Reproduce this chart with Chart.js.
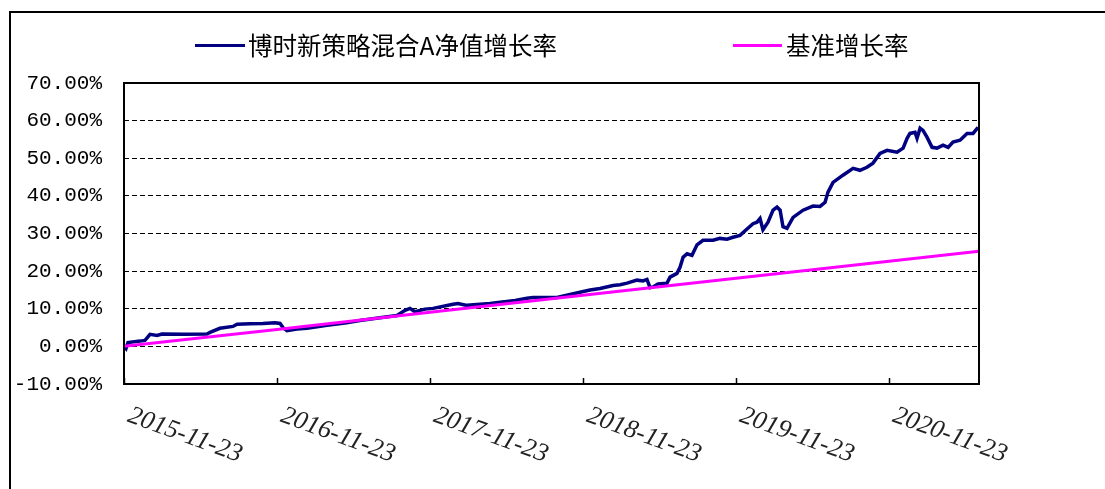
<!DOCTYPE html>
<html>
<head>
<meta charset="utf-8">
<script src="https://cdn.jsdelivr.net/npm/chart.js@4"></script>
<style>
  html, body { margin: 0; padding: 0; background: #fff; }
  #wrap { position: relative; width: 1105px; height: 489px; overflow: hidden; background: #fff; }
  #frame { position: absolute; left: 9px; top: 11px; right: -10px; bottom: -10px;
           border-top: 2px solid #000; border-left: 2px solid #000; }
  canvas { position: absolute; left: 0; top: 0; }
  .lg-line { position: absolute; height: 3px; }
  .lg-text { position: absolute; font-family: "Noto Sans CJK SC", sans-serif; font-size: 24.5px;
             line-height: 28px; color: #000; white-space: nowrap; }
</style>
</head>
<body>
<div id="wrap">
  <div id="frame"></div>
  <canvas id="c" width="1105" height="489"></canvas>
  <div class="lg-line" id="lg1" style="left:195px; top:44px; width:50px; background:#000080;"></div>
  <div class="lg-text" id="lt1" style="left:248px; top:31px;"></div>
  <div class="lg-line" id="lg2" style="left:733px; top:44px; width:49px; background:#ff00ff;"></div>
  <div class="lg-text" id="lt2" style="left:786px; top:31px;"></div>
</div>
<script>
// Series names
const seriesNames = ['博时新策略混合A净值增长率', '基准增长率'];
// X tick labels (one per year since start)
const xTickLabels = ['2015-11-23', '2016-11-23', '2017-11-23', '2018-11-23', '2019-11-23', '2020-11-23'];
// Fund: time in years since 2015-11-23, value in %
const fundYears = [0.000, 0.013, 0.026, 0.105, 0.137, 0.170, 0.216, 0.248, 0.399, 0.542, 0.562, 0.627, 0.712, 0.739, 0.824, 0.908, 0.987,
  1.020, 1.039, 1.065, 1.131, 1.196, 1.327, 1.444, 1.542, 1.673, 1.784, 1.837, 1.869, 1.902, 1.967,
  2.020, 2.150, 2.183, 2.242, 2.392, 2.458, 2.556, 2.634, 2.673, 2.830, 2.915, 2.980,
  3.046, 3.111, 3.196, 3.242, 3.288, 3.353, 3.392, 3.418, 3.438, 3.458, 3.490, 3.549, 3.569, 3.614, 3.634, 3.654, 3.680, 3.712, 3.745, 3.784, 3.850, 3.895, 3.941, 3.980,
  4.026, 4.072, 4.111, 4.137, 4.157, 4.176, 4.209, 4.242, 4.268, 4.288, 4.307, 4.333, 4.373, 4.438, 4.503, 4.549, 4.582, 4.601, 4.634, 4.699, 4.765, 4.810, 4.856, 4.895, 4.941, 4.987,
  5.052, 5.092, 5.118, 5.137, 5.170, 5.183, 5.203, 5.222, 5.248, 5.281, 5.314, 5.353, 5.386, 5.418, 5.464, 5.510, 5.549, 5.582];
const fundValues = [0.0, -0.6, 1.0, 1.4, 1.6, 3.2, 2.9, 3.3, 3.2, 3.3, 3.7, 4.8, 5.3, 5.9, 6.0, 6.1, 6.3,
  6.1, 5.0, 4.2, 4.6, 4.8, 5.6, 6.2, 6.9, 7.6, 8.2, 9.6, 10.1, 9.2, 9.9,
  10.1, 11.2, 11.4, 10.9, 11.4, 11.7, 12.2, 12.8, 13.0, 13.0, 13.8, 14.4,
  15.0, 15.4, 16.2, 16.4, 16.8, 17.6, 17.4, 17.8, 15.6, 15.8, 16.6, 16.8, 18.4, 19.4, 21.0, 23.7, 24.6, 24.2, 27.0, 28.2, 28.2, 28.7, 28.5, 29.0,
  29.5, 31.2, 32.6, 33.0, 34.0, 31.0, 33.0, 36.2, 37.0, 36.2, 31.8, 31.4, 34.3, 36.2, 37.3, 37.2, 38.3, 41.0, 43.6, 45.5, 47.3, 46.8, 47.6, 48.7, 51.3, 52.1,
  51.6, 52.7, 55.3, 56.6, 56.9, 55.3, 58.0, 57.4, 55.6, 52.9, 52.7, 53.5, 52.9, 54.3, 54.8, 56.6, 56.6, 58.2];
// Benchmark
const benchYears = [0, 1, 2, 3, 4, 5, 5.588];
const benchValues = [0.0, 4.5, 9.1, 13.6, 18.1, 22.6, 25.3];

const colors = ['#000080', '#ff00ff'];
document.getElementById('lt1').textContent = seriesNames[0];
document.getElementById('lt2').textContent = seriesNames[1];

const toPts = (xs, ys) => xs.map((x, i) => ({x: x, y: ys[i]}));

const framePlugin = {
  id: 'frame',
  afterDatasetsDraw(chart) {
    const a = chart.chartArea, ctx = chart.ctx;
    ctx.save();
    ctx.strokeStyle = '#000';
    ctx.lineWidth = 2;
    ctx.strokeRect(a.left, a.top, a.right - a.left, a.bottom - a.top);
    ctx.restore();
  }
};

new Chart(document.getElementById('c'), {
  type: 'line',
  data: {
    datasets: [
      { label: seriesNames[0], data: toPts(fundYears, fundValues), borderColor: colors[0], backgroundColor: colors[0],
        borderWidth: 3.5, pointRadius: 0, tension: 0, fill: false, order: 1 },
      { label: seriesNames[1], data: toPts(benchYears, benchValues), borderColor: colors[1], backgroundColor: colors[1],
        borderWidth: 3, pointRadius: 0, tension: 0, fill: false, order: 0 }
    ]
  },
  options: {
    responsive: false,
    devicePixelRatio: 1,
    animation: false,
    layout: { padding: { left: 0, right: 126, top: 83, bottom: 0 } },
    plugins: { legend: { display: false }, tooltip: { enabled: false } },
    scales: {
      x: {
        type: 'linear',
        min: 0,
        max: 5.588,
        afterBuildTicks: (s) => { s.ticks = xTickLabels.map((_, i) => ({ value: i })); },
        afterFit: (s) => { s.height = 105; s.paddingLeft = 0; s.paddingRight = 0; },
        border: { display: false },
        grid: { drawOnChartArea: false, drawTicks: true, tickLength: -6, tickColor: '#000', tickWidth: 1.5 },
        ticks: {
          autoSkip: false,
          minRotation: -20,
          maxRotation: -20,
          labelOffset: 117,
          padding: 63,
          color: '#222',
          font: { family: 'Liberation Serif', style: 'italic', size: 26 },
          callback: (v, i) => xTickLabels[i]
        }
      },
      y: {
        min: -10,
        max: 70,
        afterFit: (s) => { s.width = 124; },
        border: { display: false, dash: [5, 3] },
        grid: {
          drawTicks: false,
          lineWidth: 1,
          color: (ctx) => (ctx.tick && (ctx.tick.value === -10 || ctx.tick.value === 70)) ? 'rgba(0,0,0,0)' : '#000'
        },
        ticks: {
          stepSize: 10,
          padding: 22,
          color: '#000',
          font: { family: 'Liberation Mono', size: 21 },
          callback: (v) => v.toFixed(2) + '%'
        }
      }
    }
  },
  plugins: [framePlugin]
});
</script>
</body>
</html>
